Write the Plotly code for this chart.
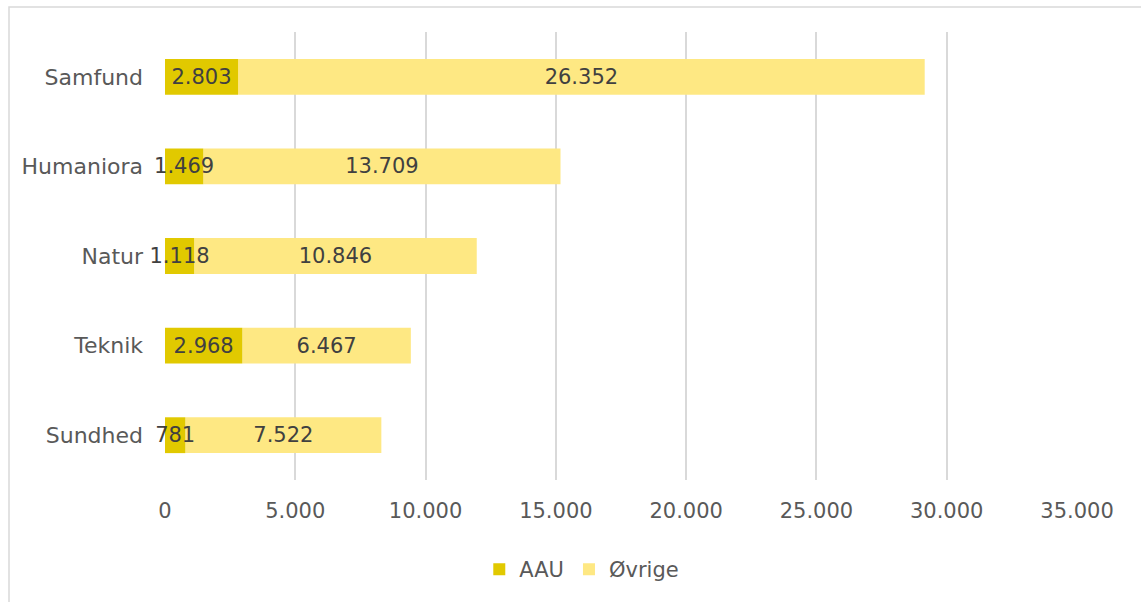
import plotly.graph_objects as go

# data
categories = ["Samfund", "Humaniora", "Natur", "Teknik", "Sundhed"]
aau = [2803, 1469, 1118, 2968, 781]
ovrige = [26352, 13709, 10846, 6467, 7522]
tick_vals = [0, 5000, 10000, 15000, 20000, 25000, 30000, 35000]

font_family = "DejaVu Sans, sans-serif"
axis_grey = "#595959"
label_grey = "#404040"

fig = go.Figure()
# Øvrige drawn first (starting where AAU ends) so the AAU labels sit on top of it
fig.add_trace(go.Bar(
    y=categories, x=ovrige, base=aau, name="Øvrige", orientation="h",
    marker=dict(color="#FEE883", line=dict(width=0)), legendrank=2,
    texttemplate="%{x:,}", textposition="inside", insidetextanchor="middle",
    textangle=0, cliponaxis=False,
    textfont=dict(color=label_grey, size=21),
))
fig.add_trace(go.Bar(
    y=categories, x=aau, name="AAU", orientation="h",
    marker=dict(color="#E1C900", line=dict(width=0)), legendrank=1,
    texttemplate="%{x:,}", textposition="inside", insidetextanchor="middle",
    textangle=0, cliponaxis=False,
    textfont=dict(color=label_grey, size=21),
))

fig.update_layout(
    barmode="overlay",
    bargap=0.6,
    width=1141, height=602,
    margin=dict(l=165, r=64, t=32, b=122),
    paper_bgcolor="white", plot_bgcolor="white",
    separators=",.",
    font=dict(family=font_family, size=21, color=axis_grey),
    uniformtext=dict(minsize=21, mode="show"),
    legend=dict(orientation="h", x=0.457, xanchor="center", y=-0.2, yanchor="middle",
                font=dict(size=21, color=axis_grey)),
    shapes=[dict(type="rect", xref="paper", yref="paper",
                 x0=(9 - 165) / 912, x1=(1150 - 165) / 912,
                 y0=(480 - 610) / 448, y1=(480 - 7) / 448,
                 line=dict(color="#D9D9D9", width=1.5), fillcolor="rgba(0,0,0,0)",
                 layer="below")],
)
fig.update_xaxes(range=[0, 35000], tickvals=tick_vals, tickformat=",",
                 showgrid=True, gridcolor="#D9D9D9", gridwidth=1.5,
                 zeroline=False, showline=False, ticks="", ticklabelstandoff=16)
fig.update_yaxes(autorange="reversed", showgrid=False, showline=False,
                 ticks="", ticklabelstandoff=21, tickfont=dict(size=22))

fig.write_html("out.html", config={"displayModeBar": False},
               post_script="document.body.style.margin='0';")
